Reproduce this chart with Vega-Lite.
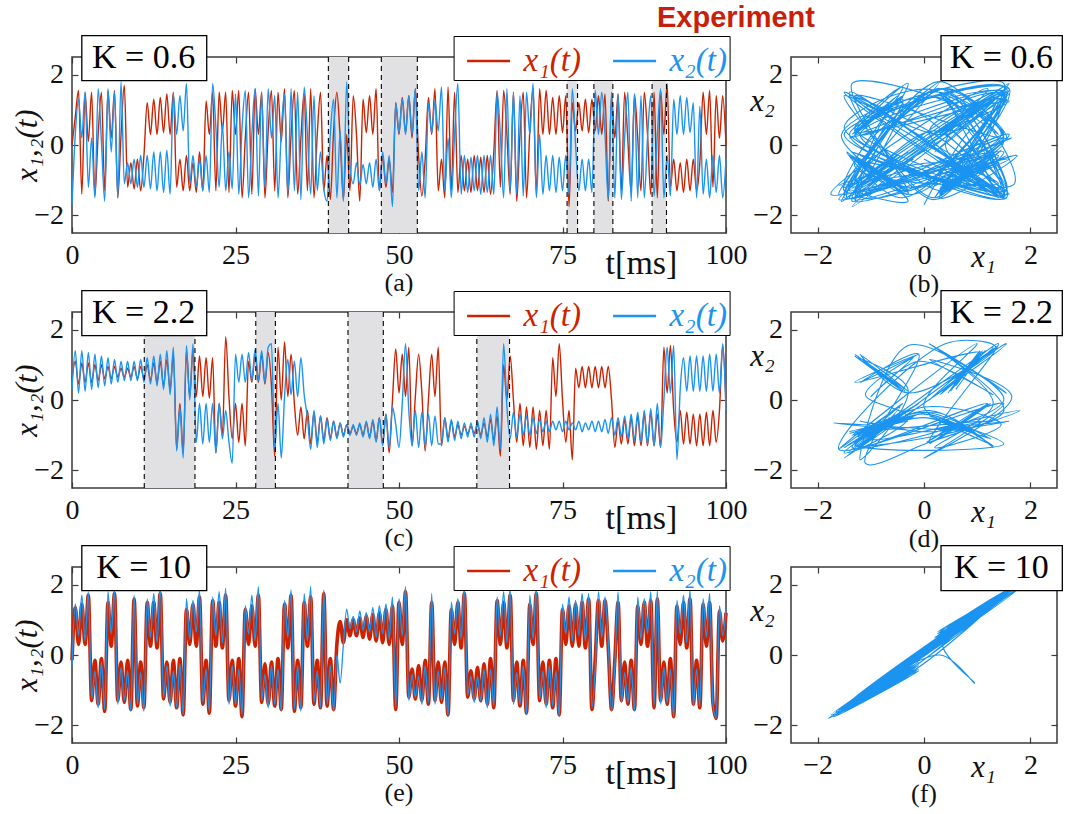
{
"$schema":"https://vega.github.io/schema/vega-lite/v6.json",
"background":"white",
"padding":{"left":10,"top":4,"right":0,"bottom":0},
"title":{"text":"Experiment","font":"Liberation Sans","fontWeight":"bold","fontSize":29,"color":"#c81e0a","anchor":"start","frame":"group","dx":585,"offset":-22,"baseline":"alphabetic"},
"config":{
"font":"Liberation Serif",
"text":{"font":"Liberation Serif"},
"view":{"stroke":"#3a3a3a","strokeWidth":1.5},
"axis":{"domain":false,"grid":false,"tickSize":-6,"tickColor":"#3a3a3a","tickWidth":1.2,"labelFont":"Liberation Serif","labelFontSize":28,"labelColor":"#111","labelPadding":14.5,"labelFlush":false,"labelOverlap":false,"titleFont":"Liberation Serif","titleFontWeight":"normal","titleColor":"#111"},
"legend":{"labelFont":"Liberation Serif"},
"title":{"font":"Liberation Serif","fontWeight":"normal","fontSize":26,"color":"#111"}
},
"columns":2,
"spacing":{"row":79,"column":65},
"bounds":"flush",
"resolve":{"scale":{"color":"independent","x":"independent","y":"independent"},"legend":{"color":"independent"},"axis":{"x":"independent","y":"independent"}},
"datasets":{
"sA":[{"s":39.2,"e":42.3},{"s":47.3,"e":52.8},{"s":75.7,"e":77.3},{"s":79.8,"e":82.7},{"s":88.7,"e":90.9}],
"sC":[{"s":11.05,"e":18.8},{"s":28.1,"e":31.1},{"s":42.2,"e":47.6},{"s":61.9,"e":66.9}],
"A":[{"t":0,"x1":0,"x2":-1.7},{"t":0.5,"x1":0.8,"x2":0.3},{"t":1,"x1":1.55,"x2":1.3},{"t":1.5,"x1":-1.4,"x2":0.2},{"t":2,"x1":1.5,"x2":1.5},{"t":2.5,"x1":0.1,"x2":-1.2},{"t":3,"x1":1.5,"x2":0.2},{"t":3.5,"x1":-1.45,"x2":-1.5},{"t":4,"x1":0.3,"x2":1.6},{"t":4.5,"x1":1.5,"x2":0.1},{"t":5,"x1":-1.3,"x2":-1.6},{"t":5.5,"x1":1.55,"x2":1.6},{"t":6,"x1":0.2,"x2":-0.2},{"t":6.5,"x1":1.55,"x2":1.5},{"t":7,"x1":-1.5,"x2":-1.5},{"t":7.5,"x1":0.3,"x2":1.8},{"t":8,"x1":1.7,"x2":-1.1},{"t":8.5,"x1":-1.2,"x2":-0.5},{"t":9,"x1":-0.5,"x2":-1.1},{"t":9.5,"x1":-1.25,"x2":-0.4},{"t":10,"x1":-0.4,"x2":-1.2},{"t":10.5,"x1":-1.3,"x2":-0.3},{"t":11,"x1":-0.3,"x2":-1.2},{"t":11.5,"x1":1.2,"x2":-0.3},{"t":12,"x1":0.3,"x2":-1.25},{"t":12.5,"x1":1.3,"x2":-0.2},{"t":13,"x1":0.3,"x2":-1.3},{"t":13.5,"x1":1.35,"x2":-0.2},{"t":14,"x1":0.35,"x2":-1.35},{"t":14.5,"x1":1.45,"x2":-0.15},{"t":15,"x1":0.3,"x2":-1.4},{"t":15.5,"x1":1.5,"x2":1.45},{"t":16,"x1":-1.2,"x2":0.3},{"t":16.5,"x1":-0.4,"x2":1.4},{"t":17,"x1":-1.3,"x2":0.4},{"t":17.5,"x1":-0.3,"x2":1.75},{"t":18,"x1":-1.3,"x2":-1.1},{"t":18.5,"x1":-0.5,"x2":-0.3},{"t":19,"x1":-1.35,"x2":-1.2},{"t":19.5,"x1":-0.2,"x2":-0.4},{"t":20,"x1":-1.3,"x2":-1.3},{"t":20.5,"x1":1.25,"x2":-0.3},{"t":21,"x1":0.3,"x2":-1.35},{"t":21.5,"x1":1.5,"x2":1.75},{"t":22,"x1":-1.3,"x2":0.5},{"t":22.5,"x1":1.5,"x2":-1.2},{"t":23,"x1":0.4,"x2":0.6},{"t":23.5,"x1":1.5,"x2":-1.3},{"t":24,"x1":-1.35,"x2":-0.2},{"t":24.5,"x1":1.55,"x2":-1.25},{"t":25,"x1":0.3,"x2":1.45},{"t":25.5,"x1":1.55,"x2":-1.4},{"t":26,"x1":-1.5,"x2":0.5},{"t":26.5,"x1":0.2,"x2":1.55},{"t":27,"x1":1.5,"x2":-1.5},{"t":27.5,"x1":-1.4,"x2":0.3},{"t":28,"x1":1.6,"x2":1.6},{"t":28.5,"x1":0.3,"x2":-1.45},{"t":29,"x1":1.5,"x2":1.5},{"t":29.5,"x1":-1.5,"x2":-1.2},{"t":30,"x1":0.4,"x2":1.6},{"t":30.5,"x1":1.55,"x2":0.2},{"t":31,"x1":-1.3,"x2":1.4},{"t":31.5,"x1":1.5,"x2":-1.5},{"t":32,"x1":0.1,"x2":0.4},{"t":32.5,"x1":1.6,"x2":1.45},{"t":33,"x1":-1.5,"x2":-1.4},{"t":33.5,"x1":0.3,"x2":1.6},{"t":34,"x1":1.55,"x2":-1.3},{"t":34.5,"x1":-1.4,"x2":1.5},{"t":35,"x1":0.2,"x2":-1.55},{"t":35.5,"x1":1.5,"x2":1.65},{"t":36,"x1":-1.3,"x2":0.3},{"t":36.5,"x1":1.6,"x2":-1.4},{"t":37,"x1":-1.5,"x2":1.4},{"t":37.5,"x1":0.3,"x2":-1.3},{"t":38,"x1":1.5,"x2":-0.2},{"t":38.5,"x1":-1.3,"x2":-1.25},{"t":39,"x1":-0.3,"x2":-1.6},{"t":39.5,"x1":-1.55,"x2":0.3},{"t":40,"x1":0.4,"x2":1.3},{"t":40.5,"x1":1.5,"x2":-1.5},{"t":41,"x1":0.2,"x2":0.4},{"t":41.5,"x1":-1.55,"x2":-1.6},{"t":42,"x1":0.3,"x2":1.8},{"t":42.5,"x1":-1.3,"x2":-0.6},{"t":43,"x1":1.4,"x2":-1.1},{"t":43.5,"x1":0.3,"x2":-0.5},{"t":44,"x1":-1.6,"x2":-1.15},{"t":44.5,"x1":1.3,"x2":-0.55},{"t":45,"x1":0.35,"x2":-1.1},{"t":45.5,"x1":1.4,"x2":-0.5},{"t":46,"x1":0.3,"x2":-1.2},{"t":46.5,"x1":1.6,"x2":-0.4},{"t":47,"x1":-1.3,"x2":-1.3},{"t":47.5,"x1":-0.3,"x2":-0.2},{"t":48,"x1":-1.2,"x2":-1.1},{"t":48.5,"x1":-0.4,"x2":-0.3},{"t":49,"x1":-1.35,"x2":-1.75},{"t":49.5,"x1":1.2,"x2":1.2},{"t":50,"x1":0.3,"x2":0.35},{"t":50.5,"x1":1.35,"x2":1.3},{"t":51,"x1":0.35,"x2":0.3},{"t":51.5,"x1":1.4,"x2":1.4},{"t":52,"x1":0.2,"x2":0.3},{"t":52.5,"x1":1.6,"x2":1.6},{"t":53,"x1":-0.3,"x2":-1.3},{"t":53.5,"x1":-1.45,"x2":-0.2},{"t":54,"x1":-0.4,"x2":-1.5},{"t":54.5,"x1":1.35,"x2":1.2},{"t":55,"x1":0.3,"x2":0.35},{"t":55.5,"x1":1.6,"x2":1.25},{"t":56,"x1":-1.3,"x2":0.4},{"t":56.5,"x1":-0.4,"x2":1.65},{"t":57,"x1":-1.5,"x2":-1.3},{"t":57.5,"x1":1.65,"x2":0.2},{"t":58,"x1":-1.3,"x2":-1.5},{"t":58.5,"x1":1.5,"x2":0.3},{"t":59,"x1":-1.35,"x2":1.75},{"t":59.5,"x1":-0.3,"x2":-1.4},{"t":60,"x1":-1.3,"x2":-0.3},{"t":60.5,"x1":-0.4,"x2":-1.35},{"t":61,"x1":-1.35,"x2":-0.35},{"t":61.5,"x1":-0.3,"x2":-1.3},{"t":62,"x1":-1.3,"x2":-0.3},{"t":62.5,"x1":-0.35,"x2":-1.4},{"t":63,"x1":-1.35,"x2":-0.3},{"t":63.5,"x1":-0.3,"x2":-1.35},{"t":64,"x1":-1.4,"x2":-0.3},{"t":64.5,"x1":-0.2,"x2":-1.4},{"t":65,"x1":1.55,"x2":1.5},{"t":65.5,"x1":-1.2,"x2":0.3},{"t":66,"x1":1.55,"x2":-1.5},{"t":66.5,"x1":0.3,"x2":1.6},{"t":67,"x1":-1.4,"x2":-1.3},{"t":67.5,"x1":1.5,"x2":1.5},{"t":68,"x1":-1.6,"x2":-1.4},{"t":68.5,"x1":0.3,"x2":1.4},{"t":69,"x1":1.5,"x2":-1.45},{"t":69.5,"x1":-1.5,"x2":1.5},{"t":70,"x1":0.4,"x2":0.3},{"t":70.5,"x1":1.6,"x2":1.75},{"t":71,"x1":-1.4,"x2":-1.5},{"t":71.5,"x1":1.6,"x2":0.3},{"t":72,"x1":0.3,"x2":-1.4},{"t":72.5,"x1":1.55,"x2":-0.3},{"t":73,"x1":0.3,"x2":-1.3},{"t":73.5,"x1":1.35,"x2":-0.3},{"t":74,"x1":0.3,"x2":-1.35},{"t":74.5,"x1":1.4,"x2":-0.35},{"t":75,"x1":0.35,"x2":-1.3},{"t":75.5,"x1":1.4,"x2":-0.3},{"t":76,"x1":-1.75,"x2":-1.4},{"t":76.5,"x1":1.2,"x2":1.6},{"t":77,"x1":0.4,"x2":0},{"t":77.5,"x1":1.2,"x2":-1.3},{"t":78,"x1":0.4,"x2":-0.4},{"t":78.5,"x1":1.3,"x2":-1.3},{"t":79,"x1":0.35,"x2":-0.4},{"t":79.5,"x1":1.3,"x2":-1.35},{"t":80,"x1":0.4,"x2":1.55},{"t":80.5,"x1":1.4,"x2":0.3},{"t":81,"x1":0.3,"x2":1.5},{"t":81.5,"x1":1.45,"x2":0.3},{"t":82,"x1":-1.6,"x2":-1.55},{"t":82.5,"x1":1.4,"x2":1.5},{"t":83,"x1":0.2,"x2":-1.5},{"t":83.5,"x1":1.45,"x2":1.45},{"t":84,"x1":-1.3,"x2":-1.55},{"t":84.5,"x1":1.5,"x2":0.2},{"t":85,"x1":0.1,"x2":1.5},{"t":85.5,"x1":-1.35,"x2":-1.6},{"t":86,"x1":1.45,"x2":1.45},{"t":86.5,"x1":0.2,"x2":-1.5},{"t":87,"x1":-1.3,"x2":1.4},{"t":87.5,"x1":1.5,"x2":-1.5},{"t":88,"x1":0.3,"x2":0.2},{"t":88.5,"x1":-1.4,"x2":1.4},{"t":89,"x1":1.5,"x2":-1.45},{"t":89.5,"x1":-1.5,"x2":0.3},{"t":90,"x1":1.55,"x2":1.6},{"t":90.5,"x1":0.3,"x2":-1.5},{"t":91,"x1":1.75,"x2":-0.3},{"t":91.5,"x1":-1.2,"x2":-1.45},{"t":92,"x1":-0.4,"x2":1.3},{"t":92.5,"x1":-1.3,"x2":0.3},{"t":93,"x1":-0.5,"x2":1.4},{"t":93.5,"x1":-1.35,"x2":0.3},{"t":94,"x1":-0.4,"x2":1.35},{"t":94.5,"x1":-1.3,"x2":0.35},{"t":95,"x1":-0.4,"x2":1.2},{"t":95.5,"x1":-1.3,"x2":-1.5},{"t":96,"x1":-0.5,"x2":1.1},{"t":96.5,"x1":1.5,"x2":-1.4},{"t":97,"x1":0.3,"x2":-0.4},{"t":97.5,"x1":1.55,"x2":-1.5},{"t":98,"x1":-1.2,"x2":-0.3},{"t":98.5,"x1":1.4,"x2":-1.35},{"t":99,"x1":0.2,"x2":-0.3},{"t":99.5,"x1":1.4,"x2":-1.5},{"t":100,"x1":0,"x2":-0.4}],
"C":[{"t":0,"x1":0.6,"x2":0.3},{"t":0.5,"x1":1.1,"x2":1.4},{"t":1,"x1":0.45,"x2":0.2},{"t":1.5,"x1":1.05,"x2":1.4},{"t":2,"x1":0.5,"x2":0.25},{"t":2.5,"x1":1.05,"x2":1.35},{"t":3,"x1":0.5,"x2":0.3},{"t":3.5,"x1":1,"x2":1.3},{"t":4,"x1":0.55,"x2":0.35},{"t":4.5,"x1":1,"x2":1.25},{"t":5,"x1":0.6,"x2":0.4},{"t":5.5,"x1":0.95,"x2":1.2},{"t":6,"x1":0.6,"x2":0.45},{"t":6.5,"x1":0.95,"x2":1.15},{"t":7,"x1":0.65,"x2":0.5},{"t":7.5,"x1":0.9,"x2":1.1},{"t":8,"x1":0.65,"x2":0.55},{"t":8.5,"x1":0.9,"x2":1.1},{"t":9,"x1":0.65,"x2":0.55},{"t":9.5,"x1":0.95,"x2":1.1},{"t":10,"x1":0.6,"x2":0.55},{"t":10.5,"x1":0.95,"x2":1.15},{"t":11,"x1":0.6,"x2":0.5},{"t":11.5,"x1":1,"x2":1.2},{"t":12,"x1":0.55,"x2":0.45},{"t":12.5,"x1":1.05,"x2":1.25},{"t":13,"x1":0.5,"x2":0.4},{"t":13.5,"x1":1.1,"x2":1.3},{"t":14,"x1":0.4,"x2":0.3},{"t":14.5,"x1":1.15,"x2":1.4},{"t":15,"x1":0.3,"x2":0.15},{"t":15.5,"x1":1.3,"x2":1.5},{"t":16,"x1":-1.4,"x2":-1.45},{"t":16.5,"x1":-0.1,"x2":-0.2},{"t":17,"x1":-1.5,"x2":-1.65},{"t":17.5,"x1":1.4,"x2":1.55},{"t":18,"x1":0.1,"x2":0},{"t":18.5,"x1":1.4,"x2":1.6},{"t":19,"x1":0.1,"x2":-1.2},{"t":19.5,"x1":1.25,"x2":-0.1},{"t":20,"x1":0.1,"x2":-1.25},{"t":20.5,"x1":1.2,"x2":-0.1},{"t":21,"x1":0.05,"x2":-1.2},{"t":21.5,"x1":1.2,"x2":-0.1},{"t":22,"x1":-1.5,"x2":-1.5},{"t":22.5,"x1":-0.1,"x2":-0.1},{"t":23,"x1":-1,"x2":-1.1},{"t":23.5,"x1":1.8,"x2":-0.3},{"t":24,"x1":0.1,"x2":-1.2},{"t":24.5,"x1":-1.1,"x2":-1.8},{"t":25,"x1":-0.1,"x2":1.3},{"t":25.5,"x1":-1.2,"x2":0.5},{"t":26,"x1":-0.1,"x2":1.3},{"t":26.5,"x1":-1.3,"x2":0.5},{"t":27,"x1":1.1,"x2":1.35},{"t":27.5,"x1":0.5,"x2":0.55},{"t":28,"x1":1.3,"x2":1.45},{"t":28.5,"x1":0.5,"x2":0.55},{"t":29,"x1":1.3,"x2":1.4},{"t":29.5,"x1":0.45,"x2":0.5},{"t":30,"x1":1.35,"x2":1.5},{"t":30.5,"x1":0.4,"x2":1.6},{"t":31,"x1":-1.6,"x2":-1.4},{"t":31.5,"x1":1.5,"x2":-0.1},{"t":32,"x1":0,"x2":-1.65},{"t":32.5,"x1":1.65,"x2":0.1},{"t":33,"x1":0.1,"x2":1.15},{"t":33.5,"x1":1.3,"x2":0.15},{"t":34,"x1":-0.1,"x2":1.1},{"t":34.5,"x1":-1,"x2":0.1},{"t":35,"x1":-0.2,"x2":1.2},{"t":35.5,"x1":-1.1,"x2":0.15},{"t":36,"x1":-0.3,"x2":-0.5},{"t":36.5,"x1":-1.25,"x2":-1.4},{"t":37,"x1":-0.35,"x2":-0.3},{"t":37.5,"x1":-1.2,"x2":-1.35},{"t":38,"x1":-0.45,"x2":-0.45},{"t":38.5,"x1":-1.15,"x2":-1.25},{"t":39,"x1":-0.5,"x2":-0.55},{"t":39.5,"x1":-1.1,"x2":-1.15},{"t":40,"x1":-0.6,"x2":-0.6},{"t":40.5,"x1":-1.05,"x2":-1.1},{"t":41,"x1":-0.65,"x2":-0.65},{"t":41.5,"x1":-1,"x2":-1.05},{"t":42,"x1":-0.7,"x2":-0.7},{"t":42.5,"x1":-0.95,"x2":-1},{"t":43,"x1":-0.75,"x2":-0.7},{"t":43.5,"x1":-0.95,"x2":-1},{"t":44,"x1":-0.7,"x2":-0.65},{"t":44.5,"x1":-1,"x2":-1.05},{"t":45,"x1":-0.65,"x2":-0.6},{"t":45.5,"x1":-1.05,"x2":-1.1},{"t":46,"x1":-0.6,"x2":-0.55},{"t":46.5,"x1":-1.15,"x2":-1.2},{"t":47,"x1":-0.5,"x2":-0.5},{"t":47.5,"x1":-1.25,"x2":-1.3},{"t":48,"x1":-0.4,"x2":-0.4},{"t":48.5,"x1":-1.5,"x2":-1.35},{"t":49,"x1":0,"x2":-0.2},{"t":49.5,"x1":1.45,"x2":-0.7},{"t":50,"x1":0.2,"x2":-1.35},{"t":50.5,"x1":1.3,"x2":-0.1},{"t":51,"x1":0.1,"x2":1.6},{"t":51.5,"x1":1.5,"x2":-0.3},{"t":52,"x1":-1.3,"x2":-1.3},{"t":52.5,"x1":0.1,"x2":-0.3},{"t":53,"x1":1.3,"x2":-1.35},{"t":53.5,"x1":0.2,"x2":-0.35},{"t":54,"x1":-1.45,"x2":-1.3},{"t":54.5,"x1":0,"x2":-0.4},{"t":55,"x1":1.3,"x2":-1.3},{"t":55.5,"x1":0.1,"x2":-0.45},{"t":56,"x1":1.5,"x2":-1.25},{"t":56.5,"x1":-1.3,"x2":-1.25},{"t":57,"x1":-0.5,"x2":-0.5},{"t":57.5,"x1":-1.1,"x2":-1.2},{"t":58,"x1":-0.6,"x2":-0.55},{"t":58.5,"x1":-1.05,"x2":-1.15},{"t":59,"x1":-0.7,"x2":-0.6},{"t":59.5,"x1":-1,"x2":-1.1},{"t":60,"x1":-0.75,"x2":-0.65},{"t":60.5,"x1":-0.95,"x2":-1.05},{"t":61,"x1":-0.75,"x2":-0.65},{"t":61.5,"x1":-0.95,"x2":-1.05},{"t":62,"x1":-0.7,"x2":-0.6},{"t":62.5,"x1":-1,"x2":-1.1},{"t":63,"x1":-0.65,"x2":-0.5},{"t":63.5,"x1":-1.05,"x2":-1.2},{"t":64,"x1":-0.55,"x2":-0.4},{"t":64.5,"x1":-1.15,"x2":-1.3},{"t":65,"x1":-0.45,"x2":-0.2},{"t":65.5,"x1":-1.6,"x2":-1.4},{"t":66,"x1":1,"x2":1.6},{"t":66.5,"x1":0,"x2":-0.2},{"t":67,"x1":1.25,"x2":-1.1},{"t":67.5,"x1":0,"x2":-0.35},{"t":68,"x1":-1.2,"x2":-1.05},{"t":68.5,"x1":-0.1,"x2":-0.4},{"t":69,"x1":-1.3,"x2":-1},{"t":69.5,"x1":-0.2,"x2":-0.45},{"t":70,"x1":-1.35,"x2":-1},{"t":70.5,"x1":-0.2,"x2":-0.5},{"t":71,"x1":-1.4,"x2":-0.95},{"t":71.5,"x1":-0.3,"x2":-0.55},{"t":72,"x1":-1.3,"x2":-0.9},{"t":72.5,"x1":-0.3,"x2":-0.6},{"t":73,"x1":-1.4,"x2":-0.9},{"t":73.5,"x1":1.2,"x2":-0.6},{"t":74,"x1":0.1,"x2":-0.85},{"t":74.5,"x1":1.6,"x2":-0.6},{"t":75,"x1":0,"x2":-0.9},{"t":75.5,"x1":-1.2,"x2":-0.6},{"t":76,"x1":-0.3,"x2":-0.85},{"t":76.5,"x1":-1.7,"x2":-0.65},{"t":77,"x1":0.9,"x2":-0.85},{"t":77.5,"x1":0.35,"x2":-0.6},{"t":78,"x1":0.95,"x2":-0.9},{"t":78.5,"x1":0.35,"x2":-0.65},{"t":79,"x1":0.95,"x2":-0.85},{"t":79.5,"x1":0.35,"x2":-0.6},{"t":80,"x1":0.95,"x2":-0.9},{"t":80.5,"x1":0.35,"x2":-0.6},{"t":81,"x1":0.95,"x2":-0.9},{"t":81.5,"x1":0.35,"x2":-0.55},{"t":82,"x1":0.95,"x2":-0.95},{"t":82.5,"x1":0,"x2":-0.5},{"t":83,"x1":-1.35,"x2":-1},{"t":83.5,"x1":-0.6,"x2":-0.5},{"t":84,"x1":-1.25,"x2":-1.05},{"t":84.5,"x1":-0.55,"x2":-0.45},{"t":85,"x1":-1.25,"x2":-1.1},{"t":85.5,"x1":-0.5,"x2":-0.4},{"t":86,"x1":-1.3,"x2":-1.15},{"t":86.5,"x1":-0.45,"x2":-0.35},{"t":87,"x1":-1.3,"x2":-1.2},{"t":87.5,"x1":-0.4,"x2":-0.3},{"t":88,"x1":-1.3,"x2":-1.25},{"t":88.5,"x1":-0.35,"x2":-0.25},{"t":89,"x1":-1.3,"x2":-1.3},{"t":89.5,"x1":-0.4,"x2":-0.1},{"t":90,"x1":-1.35,"x2":-1.35},{"t":90.5,"x1":1.5,"x2":0},{"t":91,"x1":0.2,"x2":1.5},{"t":91.5,"x1":1.55,"x2":0.2},{"t":92,"x1":-0.3,"x2":1.55},{"t":92.5,"x1":-1.2,"x2":-1.7},{"t":93,"x1":-0.3,"x2":0.3},{"t":93.5,"x1":-1.25,"x2":1.2},{"t":94,"x1":-0.35,"x2":0.25},{"t":94.5,"x1":-1.25,"x2":1.25},{"t":95,"x1":-0.4,"x2":0.25},{"t":95.5,"x1":-1.3,"x2":1.25},{"t":96,"x1":-0.4,"x2":0.25},{"t":96.5,"x1":-1.3,"x2":1.25},{"t":97,"x1":-0.35,"x2":0.25},{"t":97.5,"x1":-1.3,"x2":1.3},{"t":98,"x1":-0.3,"x2":0.25},{"t":98.5,"x1":-1.2,"x2":1.3},{"t":99,"x1":-0.3,"x2":0.2},{"t":99.5,"x1":1.55,"x2":1.6},{"t":100,"x1":-0.2,"x2":-0.3}],
"E":[{"t":0,"x1":-0.15,"x2":-0.3},{"t":0.5,"x1":1.35,"x2":1.45},{"t":1,"x1":0.3,"x2":0.55},{"t":1.5,"x1":1.45,"x2":1.7},{"t":2,"x1":0.3,"x2":0.4},{"t":2.5,"x1":1.7,"x2":1.8},{"t":3,"x1":-1.3,"x2":-1.25},{"t":3.5,"x1":-0.15,"x2":-0.45},{"t":4,"x1":-1.4,"x2":-1.5},{"t":4.5,"x1":-0.1,"x2":-0.2},{"t":5,"x1":-1.6,"x2":-1.55},{"t":5.5,"x1":1.5,"x2":1.8},{"t":6,"x1":0.25,"x2":0.6},{"t":6.5,"x1":1.75,"x2":1.85},{"t":7,"x1":-1.3,"x2":-1.4},{"t":7.5,"x1":-0.2,"x2":-0.35},{"t":8,"x1":-1.35,"x2":-1.3},{"t":8.5,"x1":-0.15,"x2":-0.45},{"t":9,"x1":-1.55,"x2":-1.6},{"t":9.5,"x1":1.6,"x2":1.7},{"t":10,"x1":-1.45,"x2":-1.4},{"t":10.5,"x1":-0.2,"x2":-0.5},{"t":11,"x1":-1.5,"x2":-1.6},{"t":11.5,"x1":1.5,"x2":1.6},{"t":12,"x1":0.25,"x2":0.5},{"t":12.5,"x1":1.5,"x2":1.75},{"t":13,"x1":0.2,"x2":0.35},{"t":13.5,"x1":1.75,"x2":1.95},{"t":14,"x1":-1.25,"x2":-1.2},{"t":14.5,"x1":-0.2,"x2":-0.3},{"t":15,"x1":-1.35,"x2":-1.45},{"t":15.5,"x1":-0.15,"x2":-0.45},{"t":16,"x1":-1.5,"x2":-1.5},{"t":16.5,"x1":-0.1,"x2":-0.25},{"t":17,"x1":-1.7,"x2":-1.7},{"t":17.5,"x1":1.3,"x2":1.6},{"t":18,"x1":0.3,"x2":0.45},{"t":18.5,"x1":1.45,"x2":1.55},{"t":19,"x1":0.25,"x2":0.65},{"t":19.5,"x1":1.65,"x2":1.85},{"t":20,"x1":-1.4,"x2":-1.35},{"t":20.5,"x1":-0.15,"x2":-0.4},{"t":21,"x1":-1.65,"x2":-1.6},{"t":21.5,"x1":1.55,"x2":1.65},{"t":22,"x1":0.25,"x2":0.55},{"t":22.5,"x1":1.5,"x2":1.8},{"t":23,"x1":0.2,"x2":0.35},{"t":23.5,"x1":1.7,"x2":1.9},{"t":24,"x1":-1.3,"x2":-1.4},{"t":24.5,"x1":-0.15,"x2":-0.3},{"t":25,"x1":-1.45,"x2":-1.4},{"t":25.5,"x1":-0.1,"x2":-0.4},{"t":26,"x1":-1.75,"x2":-1.7},{"t":26.5,"x1":1.3,"x2":1.4},{"t":27,"x1":0.3,"x2":0.6},{"t":27.5,"x1":1.4,"x2":1.7},{"t":28,"x1":0.25,"x2":0.4},{"t":28.5,"x1":1.7,"x2":1.95},{"t":29,"x1":-1.35,"x2":-1.3},{"t":29.5,"x1":-0.25,"x2":-0.55},{"t":30,"x1":-1.4,"x2":-1.5},{"t":30.5,"x1":-0.2,"x2":-0.3},{"t":31,"x1":-1.45,"x2":-1.4},{"t":31.5,"x1":-0.1,"x2":-0.4},{"t":32,"x1":-1.55,"x2":-1.6},{"t":32.5,"x1":1.45,"x2":1.55},{"t":33,"x1":0.2,"x2":0.5},{"t":33.5,"x1":1.7,"x2":1.85},{"t":34,"x1":-1.6,"x2":-1.55},{"t":34.5,"x1":-0.15,"x2":-0.3},{"t":35,"x1":-1.5,"x2":-1.6},{"t":35.5,"x1":1.5,"x2":1.75},{"t":36,"x1":0.25,"x2":0.4},{"t":36.5,"x1":1.65,"x2":1.95},{"t":37,"x1":-1.4,"x2":-1.35},{"t":37.5,"x1":-0.15,"x2":-0.45},{"t":38,"x1":-1.5,"x2":-1.5},{"t":38.5,"x1":1.75,"x2":1.85},{"t":39,"x1":-1.45,"x2":-1.4},{"t":39.5,"x1":-0.1,"x2":-0.3},{"t":40,"x1":-1.55,"x2":-1.6},{"t":40.5,"x1":0.3,"x2":0},{"t":41,"x1":0.95,"x2":-0.8},{"t":41.5,"x1":0.35,"x2":0.3},{"t":42,"x1":1,"x2":1.3},{"t":42.5,"x1":0.55,"x2":0.75},{"t":43,"x1":1,"x2":1.1},{"t":43.5,"x1":0.55,"x2":0.65},{"t":44,"x1":1.05,"x2":1.25},{"t":44.5,"x1":0.5,"x2":0.7},{"t":45,"x1":1.1,"x2":1.2},{"t":45.5,"x1":0.45,"x2":0.65},{"t":46,"x1":1.15,"x2":1.35},{"t":46.5,"x1":0.4,"x2":0.5},{"t":47,"x1":1.2,"x2":1.4},{"t":47.5,"x1":0.35,"x2":0.6},{"t":48,"x1":1.3,"x2":1.45},{"t":48.5,"x1":0.3,"x2":0.45},{"t":49,"x1":1.4,"x2":1.65},{"t":49.5,"x1":-1.55,"x2":-1.5},{"t":50,"x1":1.5,"x2":1.6},{"t":50.5,"x1":0.3,"x2":0.55},{"t":51,"x1":1.8,"x2":1.95},{"t":51.5,"x1":-1.2,"x2":-1.3},{"t":52,"x1":-0.4,"x2":-0.55},{"t":52.5,"x1":-1.25,"x2":-1.2},{"t":53,"x1":-0.3,"x2":-0.6},{"t":53.5,"x1":-1.3,"x2":-1.4},{"t":54,"x1":-0.15,"x2":-0.3},{"t":54.5,"x1":-1.4,"x2":-1.35},{"t":55,"x1":1.5,"x2":1.75},{"t":55.5,"x1":-1.3,"x2":-1.4},{"t":56,"x1":-0.2,"x2":-0.45},{"t":56.5,"x1":-1.35,"x2":-1.3},{"t":57,"x1":-0.2,"x2":-0.35},{"t":57.5,"x1":-1.7,"x2":-1.75},{"t":58,"x1":1.3,"x2":1.5},{"t":58.5,"x1":0.3,"x2":0.6},{"t":59,"x1":1.5,"x2":1.6},{"t":59.5,"x1":0.2,"x2":0.45},{"t":60,"x1":1.75,"x2":1.95},{"t":60.5,"x1":-1.2,"x2":-1.15},{"t":61,"x1":-0.45,"x2":-0.6},{"t":61.5,"x1":-1.25,"x2":-1.35},{"t":62,"x1":-0.35,"x2":-0.6},{"t":62.5,"x1":-1.3,"x2":-1.3},{"t":63,"x1":-0.25,"x2":-0.4},{"t":63.5,"x1":-1.4,"x2":-1.5},{"t":64,"x1":-0.1,"x2":-0.4},{"t":64.5,"x1":-1.5,"x2":-1.45},{"t":65,"x1":1.55,"x2":1.65},{"t":65.5,"x1":0.3,"x2":0.55},{"t":66,"x1":1.5,"x2":1.8},{"t":66.5,"x1":0.2,"x2":0.35},{"t":67,"x1":1.7,"x2":1.9},{"t":67.5,"x1":-1.3,"x2":-1.4},{"t":68,"x1":-0.2,"x2":-0.5},{"t":68.5,"x1":-1.45,"x2":-1.4},{"t":69,"x1":-0.15,"x2":-0.3},{"t":69.5,"x1":-1.65,"x2":-1.7},{"t":70,"x1":1.45,"x2":1.7},{"t":70.5,"x1":0.3,"x2":0.45},{"t":71,"x1":1.75,"x2":1.95},{"t":71.5,"x1":-1.3,"x2":-1.25},{"t":72,"x1":-0.2,"x2":-0.45},{"t":72.5,"x1":-1.4,"x2":-1.5},{"t":73,"x1":-0.15,"x2":-0.3},{"t":73.5,"x1":-1.5,"x2":-1.45},{"t":74,"x1":-0.1,"x2":-0.45},{"t":74.5,"x1":-1.7,"x2":-1.75},{"t":75,"x1":1.3,"x2":1.45},{"t":75.5,"x1":0.3,"x2":0.6},{"t":76,"x1":1.4,"x2":1.65},{"t":76.5,"x1":0.25,"x2":0.4},{"t":77,"x1":1.45,"x2":1.55},{"t":77.5,"x1":0.25,"x2":0.55},{"t":78,"x1":1.5,"x2":1.75},{"t":78.5,"x1":0.2,"x2":0.4},{"t":79,"x1":1.6,"x2":1.75},{"t":79.5,"x1":-1.55,"x2":-1.5},{"t":80,"x1":-0.15,"x2":-0.4},{"t":80.5,"x1":1.55,"x2":1.8},{"t":81,"x1":0.25,"x2":0.5},{"t":81.5,"x1":1.55,"x2":1.65},{"t":82,"x1":0.2,"x2":0.35},{"t":82.5,"x1":-1.55,"x2":-1.6},{"t":83,"x1":-0.15,"x2":-0.3},{"t":83.5,"x1":1.5,"x2":1.8},{"t":84,"x1":-1.3,"x2":-1.35},{"t":84.5,"x1":-0.2,"x2":-0.5},{"t":85,"x1":-1.4,"x2":-1.35},{"t":85.5,"x1":-0.15,"x2":-0.35},{"t":86,"x1":-1.55,"x2":-1.6},{"t":86.5,"x1":1.4,"x2":1.65},{"t":87,"x1":0.3,"x2":0.45},{"t":87.5,"x1":1.5,"x2":1.6},{"t":88,"x1":0.25,"x2":0.6},{"t":88.5,"x1":1.55,"x2":1.8},{"t":89,"x1":-1.5,"x2":-1.45},{"t":89.5,"x1":1.6,"x2":1.85},{"t":90,"x1":-1.3,"x2":-1.4},{"t":90.5,"x1":-0.2,"x2":-0.35},{"t":91,"x1":-1.4,"x2":-1.35},{"t":91.5,"x1":-0.1,"x2":-0.4},{"t":92,"x1":-1.75,"x2":-1.75},{"t":92.5,"x1":1.4,"x2":1.55},{"t":93,"x1":0.3,"x2":0.6},{"t":93.5,"x1":1.5,"x2":1.7},{"t":94,"x1":0.2,"x2":0.35},{"t":94.5,"x1":1.6,"x2":1.85},{"t":95,"x1":-1.4,"x2":-1.45},{"t":95.5,"x1":-0.15,"x2":-0.4},{"t":96,"x1":-1.5,"x2":-1.45},{"t":96.5,"x1":1.45,"x2":1.6},{"t":97,"x1":0.25,"x2":0.5},{"t":97.5,"x1":1.5,"x2":1.75},{"t":98,"x1":-1.35,"x2":-1.4},{"t":98.5,"x1":-1.8,"x2":-1.8},{"t":99,"x1":1.25,"x2":1.4},{"t":99.5,"x1":0.4,"x2":0.55},{"t":100,"x1":1.2,"x2":1.3}]
},
"concat":[
{"width":654,"height":176,
"title":{"text":"(a)","orient":"bottom","frame":"group","offset":-10,"fontSize":26,"anchor":"middle"},
"resolve":{"axis":{"x":"independent","y":"independent"}},
"layer":[
{"data":{"name":"sA"},"mark":{"type":"rect","color":"#e1e1e3"},"encoding":{"x":{"field":"s","type":"quantitative","scale":{"domain":[0,100]},"axis":null},"x2":{"field":"e"}}},
{"data":{"name":"A"},"mark":{"type":"line","interpolate":"monotone","strokeWidth":1.4},"encoding":{"x":{"field":"t","type":"quantitative","title":"t[ms]","scale":{"domain":[0,100]},"axis":{"values":[0,25,50,75,100],"titleFontSize":34,"titleX":569,"titleY":40,"titleAlign":"center","titleBaseline":"alphabetic","titleAngle":0}},"y":{"field":"x1","type":"quantitative","title":"x₁,₂(t)","scale":{"domain":[-2.5,2.5]},"axis":{"values":[-2,0,2],"titleFontSize":31,"titleFontStyle":"italic","titleX":-45,"titleY":88,"titleAlign":"center","titleBaseline":"middle","titleAngle":-90}},"color":{"datum":"x1","type":"nominal","scale":{"domain":["x1","x2"],"range":["#cc2200","#1a94f0"]},"legend":{"orient":"none","legendX":381.6,"legendY":-21,"direction":"horizontal","title":null,"fillColor":"white","strokeColor":"#000","padding":2,"symbolOffset":10,"symbolType":"stroke","symbolSize":1849,"symbolStrokeWidth":2.5,"labelFontSize":33,"labelFont":"Liberation Serif","labelFontStyle":"italic","labelOffset":12,"columnPadding":20,"labelExpr":"datum.value == 'x1' ? 'x₁(t)' : 'x₂(t)\u00a0'","encode":{"labels":{"update":{"fill":{"signal":"datum.value == 'x1' ? '#cc2200' : '#1a94f0'"}}}}}}}},
{"data":{"name":"A"},"mark":{"type":"line","interpolate":"monotone","strokeWidth":1.4},"encoding":{"x":{"field":"t","type":"quantitative","axis":null},"y":{"field":"x2","type":"quantitative","axis":null},"color":{"datum":"x2","type":"nominal"}}},
{"data":{"name":"sA"},"mark":{"type":"rule","strokeDash":[5,4],"color":"#000","strokeWidth":1.1},"encoding":{"x":{"field":"s","type":"quantitative","axis":null}}},
{"data":{"name":"sA"},"mark":{"type":"rule","strokeDash":[5,4],"color":"#000","strokeWidth":1.1},"encoding":{"x":{"field":"e","type":"quantitative","axis":null}}},
{"data":{"values":[{"label":"K = 0.6"}]},"mark":{"type":"rect","fill":"white","stroke":"#000","strokeWidth":1.3},"encoding":{"x":{"datum":1.5,"scale":{"domain":[0,100]},"axis":null},"x2":{"datum":20.6},"y":{"datum":1.83,"scale":{"domain":[-2.5,2.5]},"axis":null},"y2":{"datum":3.11}}},
{"data":{"values":[{"label":"K = 0.6"}]},"mark":{"type":"text","fontSize":34,"font":"Liberation Serif","color":"#000"},"encoding":{"x":{"datum":10.95,"scale":{"domain":[0,100]},"axis":{"orient":"top","values":[0,25,50,75,100],"labels":false,"title":null}},"y":{"datum":2.47,"scale":{"domain":[-2.5,2.5]},"axis":{"orient":"right","values":[-2,0,2],"labels":false,"title":null}},"text":{"field":"label"}}}
]},
{"width":266,"height":176,
"title":{"text":"(b)","orient":"bottom","frame":"group","offset":-1,"fontSize":26,"anchor":"middle"},
"resolve":{"axis":{"x":"independent","y":"independent"}},
"layer":[
{"data":{"name":"A"},"mark":{"type":"line","interpolate":"catmull-rom","strokeWidth":1.1,"color":"#1a94f0"},"encoding":{"x":{"field":"x1","type":"quantitative","title":"x₁","scale":{"domain":[-2.5,2.5]},"axis":{"values":[-2,0,2],"titleFontSize":31,"titleFontStyle":"italic","titleX":192,"titleY":24,"titleAlign":"center","titleBaseline":"middle","titleAngle":0}},"y":{"field":"x2","type":"quantitative","title":"x₂","scale":{"domain":[-2.5,2.5]},"axis":{"values":[-2,0,2],"titleFontSize":31,"titleFontStyle":"italic","titleX":-29,"titleY":44,"titleAlign":"center","titleBaseline":"middle","titleAngle":0}},"order":{"field":"t","type":"quantitative"}}},
{"data":{"values":[{"label":"K = 0.6"}]},"mark":{"type":"rect","fill":"white","stroke":"#000","strokeWidth":1.3},"encoding":{"x":{"datum":0.32,"scale":{"domain":[-2.5,2.5]},"axis":null},"x2":{"datum":2.6},"y":{"datum":1.83,"scale":{"domain":[-2.5,2.5]},"axis":null},"y2":{"datum":3.11}}},
{"data":{"values":[{"label":"K = 0.6"}]},"mark":{"type":"text","fontSize":34,"font":"Liberation Serif","color":"#000"},"encoding":{"x":{"datum":1.455,"scale":{"domain":[-2.5,2.5]},"axis":{"orient":"top","values":[-2,0,2],"labels":false,"title":null}},"y":{"datum":2.47,"scale":{"domain":[-2.5,2.5]},"axis":{"orient":"right","values":[-2,0,2],"labels":false,"title":null}},"text":{"field":"label"}}}
]},
{"width":654,"height":176,
"title":{"text":"(c)","orient":"bottom","frame":"group","offset":-10,"fontSize":26,"anchor":"middle"},
"resolve":{"axis":{"x":"independent","y":"independent"}},
"layer":[
{"data":{"name":"sC"},"mark":{"type":"rect","color":"#e1e1e3"},"encoding":{"x":{"field":"s","type":"quantitative","scale":{"domain":[0,100]},"axis":null},"x2":{"field":"e"}}},
{"data":{"name":"C"},"mark":{"type":"line","interpolate":"monotone","strokeWidth":1.4},"encoding":{"x":{"field":"t","type":"quantitative","title":"t[ms]","scale":{"domain":[0,100]},"axis":{"values":[0,25,50,75,100],"titleFontSize":34,"titleX":569,"titleY":40,"titleAlign":"center","titleBaseline":"alphabetic","titleAngle":0}},"y":{"field":"x1","type":"quantitative","title":"x₁,₂(t)","scale":{"domain":[-2.5,2.5]},"axis":{"values":[-2,0,2],"titleFontSize":31,"titleFontStyle":"italic","titleX":-45,"titleY":88,"titleAlign":"center","titleBaseline":"middle","titleAngle":-90}},"color":{"datum":"x1","type":"nominal","scale":{"domain":["x1","x2"],"range":["#cc2200","#1a94f0"]},"legend":{"orient":"none","legendX":381.6,"legendY":-21,"direction":"horizontal","title":null,"fillColor":"white","strokeColor":"#000","padding":2,"symbolOffset":10,"symbolType":"stroke","symbolSize":1849,"symbolStrokeWidth":2.5,"labelFontSize":33,"labelFont":"Liberation Serif","labelFontStyle":"italic","labelOffset":12,"columnPadding":20,"labelExpr":"datum.value == 'x1' ? 'x₁(t)' : 'x₂(t)\u00a0'","encode":{"labels":{"update":{"fill":{"signal":"datum.value == 'x1' ? '#cc2200' : '#1a94f0'"}}}}}}}},
{"data":{"name":"C"},"mark":{"type":"line","interpolate":"monotone","strokeWidth":1.4},"encoding":{"x":{"field":"t","type":"quantitative","axis":null},"y":{"field":"x2","type":"quantitative","axis":null},"color":{"datum":"x2","type":"nominal"}}},
{"data":{"name":"sC"},"mark":{"type":"rule","strokeDash":[5,4],"color":"#000","strokeWidth":1.1},"encoding":{"x":{"field":"s","type":"quantitative","axis":null}}},
{"data":{"name":"sC"},"mark":{"type":"rule","strokeDash":[5,4],"color":"#000","strokeWidth":1.1},"encoding":{"x":{"field":"e","type":"quantitative","axis":null}}},
{"data":{"values":[{"label":"K = 2.2"}]},"mark":{"type":"rect","fill":"white","stroke":"#000","strokeWidth":1.3},"encoding":{"x":{"datum":1.5,"scale":{"domain":[0,100]},"axis":null},"x2":{"datum":20.6},"y":{"datum":1.83,"scale":{"domain":[-2.5,2.5]},"axis":null},"y2":{"datum":3.11}}},
{"data":{"values":[{"label":"K = 2.2"}]},"mark":{"type":"text","fontSize":34,"font":"Liberation Serif","color":"#000"},"encoding":{"x":{"datum":10.95,"scale":{"domain":[0,100]},"axis":{"orient":"top","values":[0,25,50,75,100],"labels":false,"title":null}},"y":{"datum":2.47,"scale":{"domain":[-2.5,2.5]},"axis":{"orient":"right","values":[-2,0,2],"labels":false,"title":null}},"text":{"field":"label"}}}
]},
{"width":266,"height":176,
"title":{"text":"(d)","orient":"bottom","frame":"group","offset":-1,"fontSize":26,"anchor":"middle"},
"resolve":{"axis":{"x":"independent","y":"independent"}},
"layer":[
{"data":{"name":"C"},"mark":{"type":"line","interpolate":"catmull-rom","strokeWidth":1.1,"color":"#1a94f0"},"encoding":{"x":{"field":"x1","type":"quantitative","title":"x₁","scale":{"domain":[-2.5,2.5]},"axis":{"values":[-2,0,2],"titleFontSize":31,"titleFontStyle":"italic","titleX":192,"titleY":24,"titleAlign":"center","titleBaseline":"middle","titleAngle":0}},"y":{"field":"x2","type":"quantitative","title":"x₂","scale":{"domain":[-2.5,2.5]},"axis":{"values":[-2,0,2],"titleFontSize":31,"titleFontStyle":"italic","titleX":-29,"titleY":44,"titleAlign":"center","titleBaseline":"middle","titleAngle":0}},"order":{"field":"t","type":"quantitative"}}},
{"data":{"values":[{"label":"K = 2.2"}]},"mark":{"type":"rect","fill":"white","stroke":"#000","strokeWidth":1.3},"encoding":{"x":{"datum":0.32,"scale":{"domain":[-2.5,2.5]},"axis":null},"x2":{"datum":2.6},"y":{"datum":1.83,"scale":{"domain":[-2.5,2.5]},"axis":null},"y2":{"datum":3.11}}},
{"data":{"values":[{"label":"K = 2.2"}]},"mark":{"type":"text","fontSize":34,"font":"Liberation Serif","color":"#000"},"encoding":{"x":{"datum":1.455,"scale":{"domain":[-2.5,2.5]},"axis":{"orient":"top","values":[-2,0,2],"labels":false,"title":null}},"y":{"datum":2.47,"scale":{"domain":[-2.5,2.5]},"axis":{"orient":"right","values":[-2,0,2],"labels":false,"title":null}},"text":{"field":"label"}}}
]},
{"width":654,"height":176,
"title":{"text":"(e)","orient":"bottom","frame":"group","offset":-10,"fontSize":26,"anchor":"middle"},
"resolve":{"axis":{"x":"independent","y":"independent"}},
"layer":[
{"data":{"name":"E"},"mark":{"type":"line","interpolate":"monotone","strokeWidth":3.6},"encoding":{"x":{"field":"t","type":"quantitative","title":"t[ms]","scale":{"domain":[0,100]},"axis":{"values":[0,25,50,75,100],"titleFontSize":34,"titleX":569,"titleY":40,"titleAlign":"center","titleBaseline":"alphabetic","titleAngle":0}},"y":{"field":"x1","type":"quantitative","title":"x₁,₂(t)","scale":{"domain":[-2.5,2.5]},"axis":{"values":[-2,0,2],"titleFontSize":31,"titleFontStyle":"italic","titleX":-45,"titleY":88,"titleAlign":"center","titleBaseline":"middle","titleAngle":-90}},"color":{"datum":"x1","type":"nominal","scale":{"domain":["x1","x2"],"range":["#cc2200","#1a94f0"]},"legend":{"orient":"none","legendX":381.6,"legendY":-21,"direction":"horizontal","title":null,"fillColor":"white","strokeColor":"#000","padding":2,"symbolOffset":10,"symbolType":"stroke","symbolSize":1849,"symbolStrokeWidth":2.5,"labelFontSize":33,"labelFont":"Liberation Serif","labelFontStyle":"italic","labelOffset":12,"columnPadding":20,"labelExpr":"datum.value == 'x1' ? 'x₁(t)' : 'x₂(t)\u00a0'","encode":{"labels":{"update":{"fill":{"signal":"datum.value == 'x1' ? '#cc2200' : '#1a94f0'"}}}}}}}},
{"data":{"name":"E"},"mark":{"type":"line","interpolate":"monotone","strokeWidth":1.3},"encoding":{"x":{"field":"t","type":"quantitative","axis":null},"y":{"field":"x2","type":"quantitative","axis":null},"color":{"datum":"x2","type":"nominal"}}},
{"data":{"values":[{"label":"K = 10"}]},"mark":{"type":"rect","fill":"white","stroke":"#000","strokeWidth":1.3},"encoding":{"x":{"datum":1.5,"scale":{"domain":[0,100]},"axis":null},"x2":{"datum":20.6},"y":{"datum":1.83,"scale":{"domain":[-2.5,2.5]},"axis":null},"y2":{"datum":3.11}}},
{"data":{"values":[{"label":"K = 10"}]},"mark":{"type":"text","fontSize":34,"font":"Liberation Serif","color":"#000"},"encoding":{"x":{"datum":10.95,"scale":{"domain":[0,100]},"axis":{"orient":"top","values":[0,25,50,75,100],"labels":false,"title":null}},"y":{"datum":2.47,"scale":{"domain":[-2.5,2.5]},"axis":{"orient":"right","values":[-2,0,2],"labels":false,"title":null}},"text":{"field":"label"}}}
]},
{"width":266,"height":176,
"title":{"text":"(f)","orient":"bottom","frame":"group","offset":-1,"fontSize":26,"anchor":"middle"},
"resolve":{"axis":{"x":"independent","y":"independent"}},
"layer":[
{"data":{"name":"E"},"mark":{"type":"line","interpolate":"catmull-rom","strokeWidth":1.1,"color":"#1a94f0"},"encoding":{"x":{"field":"x1","type":"quantitative","title":"x₁","scale":{"domain":[-2.5,2.5]},"axis":{"values":[-2,0,2],"titleFontSize":31,"titleFontStyle":"italic","titleX":192,"titleY":24,"titleAlign":"center","titleBaseline":"middle","titleAngle":0}},"y":{"field":"x2","type":"quantitative","title":"x₂","scale":{"domain":[-2.5,2.5]},"axis":{"values":[-2,0,2],"titleFontSize":31,"titleFontStyle":"italic","titleX":-29,"titleY":44,"titleAlign":"center","titleBaseline":"middle","titleAngle":0}},"order":{"field":"t","type":"quantitative"}}},
{"data":{"values":[{"label":"K = 10"}]},"mark":{"type":"rect","fill":"white","stroke":"#000","strokeWidth":1.3},"encoding":{"x":{"datum":0.32,"scale":{"domain":[-2.5,2.5]},"axis":null},"x2":{"datum":2.6},"y":{"datum":1.83,"scale":{"domain":[-2.5,2.5]},"axis":null},"y2":{"datum":3.11}}},
{"data":{"values":[{"label":"K = 10"}]},"mark":{"type":"text","fontSize":34,"font":"Liberation Serif","color":"#000"},"encoding":{"x":{"datum":1.455,"scale":{"domain":[-2.5,2.5]},"axis":{"orient":"top","values":[-2,0,2],"labels":false,"title":null}},"y":{"datum":2.47,"scale":{"domain":[-2.5,2.5]},"axis":{"orient":"right","values":[-2,0,2],"labels":false,"title":null}},"text":{"field":"label"}}}
]}
]
}
